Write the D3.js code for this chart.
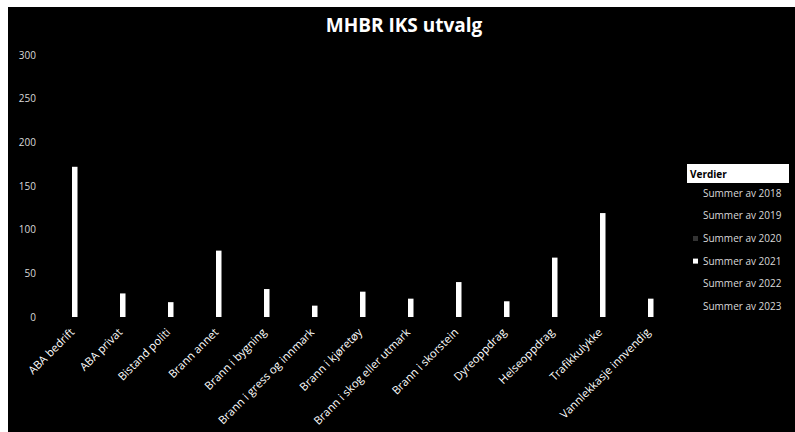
<!DOCTYPE html>
<meta charset="utf-8">
<head>
    <script src="https://d3js.org/d3.v7.min.js"></script>
    <style>
        body { margin: 0; background: #fff; }
        text { font-family: "Open Sans", sans-serif; }
    </style>
</head>
<body>
<div id="graph"></div>
<script>
    // data
    var categories = ["ABA bedrift", "ABA privat", "Bistand politi", "Brann annet", "Brann i bygning",
        "Brann i gress og innmark", "Brann i kjøretøy", "Brann i skog eller utmark", "Brann i skorstein",
        "Dyreoppdrag", "Helseoppdrag", "Trafikkulykke", "Vannlekkasje innvendig"];
    var seriesNames = ["Summer av 2018", "Summer av 2019", "Summer av 2020", "Summer av 2021", "Summer av 2022", "Summer av 2023"];
    // only the 2021 series is readable in the picture
    var values2021 = [172, 27, 17, 76, 32, 13, 29, 21, 40, 18, 68, 119, 21];
    var yTicks = [0, 50, 100, 150, 200, 250, 300];

    var W = 795, H = 432;

    var svg = d3.select("#graph")
      .append("svg")
        .attr("width", W)
        .attr("height", H);

    // chart background
    svg.append("rect")
        .attr("x", 8).attr("y", 7)
        .attr("width", W - 8).attr("height", H - 7)
        .attr("fill", "#000");

    // title
    svg.append("text")
        .attr("x", 404).attr("y", 32)
        .attr("text-anchor", "middle")
        .style("font-size", "19px")
        .style("font-weight", "bold")
        .attr("fill", "#fff")
        .text("MHBR IKS utvalg");

    // scales
    var x0 = d3.scaleBand()
        .domain(categories)
        .range([48, 672])
        .paddingInner(0.3125)
        .paddingOuter(0.15625);
    var x1 = d3.scaleBand()
        .domain(seriesNames)
        .range([0, x0.bandwidth()]);
    var y = d3.scaleLinear()
        .domain([0, 300])
        .range([317, 55]);

    // Y axis labels
    var yAxis = d3.axisLeft(y).tickValues(yTicks).tickSize(0).tickPadding(0);
    var gy = svg.append("g")
        .attr("transform", "translate(36,0)")
        .call(yAxis);
    gy.select(".domain").remove();
    gy.selectAll("text")
        .attr("fill", "#d9d9d9")
        .style("font-size", "10px")
        .style("font-family", "Open Sans, sans-serif");

    // X axis labels
    var xAxis = d3.axisBottom(x0).tickSize(0).tickPadding(0);
    var gx = svg.append("g")
        .attr("transform", "translate(0,317)")
        .call(xAxis);
    gx.select(".domain").remove();
    gx.selectAll("text")
        .attr("fill", "#fff")
        .style("font-size", "11.2px")
        .style("font-family", "Open Sans, sans-serif")
        .style("text-anchor", "end")
        .attr("dy", null)
        .attr("y", 0)
        .attr("transform", "translate(3,16) rotate(-45)");

    // bars (2021)
    svg.append("g")
        .selectAll("rect")
        .data(values2021)
        .enter()
        .append("rect")
        .attr("x", function (d, i) { return x0(categories[i]) + x1("Summer av 2021"); })
        .attr("y", function (d) { return y(d); })
        .attr("width", x1.bandwidth())
        .attr("height", function (d) { return y(0) - y(d); })
        .attr("fill", "#fff");

    // legend
    svg.append("rect")
        .attr("x", 687).attr("y", 164)
        .attr("width", 102).attr("height", 19)
        .attr("fill", "#fff");
    svg.append("text")
        .attr("x", 690).attr("y", 177.5)
        .style("font-size", "10px")
        .style("font-weight", "bold")
        .attr("fill", "#000")
        .text("Verdier");

    var legend = svg.append("g")
        .selectAll("g")
        .data(seriesNames)
        .enter()
        .append("g")
        .attr("transform", function (d, i) { return "translate(0," + (193.3 + i * 22.6) + ")"; });
    legend.append("rect")
        .attr("x", 693).attr("y", -2.5)
        .attr("width", 5).attr("height", 5)
        .attr("fill", function (d) { return d == "Summer av 2021" ? "#fff" : (d == "Summer av 2020" ? "#333" : "#000"); });
    legend.append("text")
        .attr("x", 703).attr("y", 0)
        .attr("dy", "0.35em")
        .style("font-size", "10px")
        .attr("fill", "#d9d9d9")
        .text(function (d) { return d; });
</script>
</body>
